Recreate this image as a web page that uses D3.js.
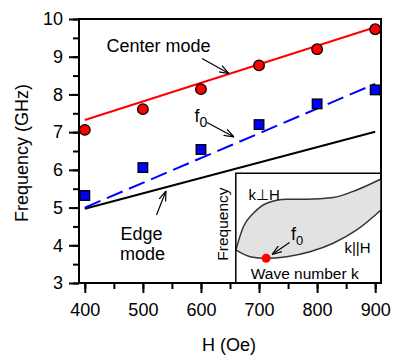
<!DOCTYPE html>
<html>
<head>
<meta charset="utf-8">
<script src="https://cdn.jsdelivr.net/npm/d3@7"></script>
<style>
  body { margin: 0; background: #fff; }
  svg text { font-family: "Liberation Sans", Arial, sans-serif; fill: #000; }
</style>
</head>
<body>
<svg id="chart" width="396" height="361"></svg>
<script>
// field values (Oe)
const fields = [400, 500, 600, 700, 800, 900];
// measured points (GHz)
const centerPts = [7.06, 7.61, 8.14, 8.77, 9.20, 9.73];
const f0Pts = [5.32, 6.06, 6.54, 7.20, 7.75, 8.12];
// calculated lines, end points only (GHz)
const lineFields = [400, 900];
const centerLine = [7.32, 9.78];
const f0Line = [5.00, 8.28];
const edgeLine = [4.97, 7.01];
const xTicks = [400, 500, 600, 700, 800, 900];
const yTicks = [3, 4, 5, 6, 7, 8, 9, 10];

// inset sketch, normalised k / frequency
const upperK = [0, 0.052, 0.121, 0.213, 0.351, 0.489, 0.671, 0.833, 1.0];
const upperF = [0.301, 0.513, 0.635, 0.727, 0.763, 0.763, 0.778, 0.848, 0.948];
const lowerK = [0, 0.098, 0.208, 0.351, 0.511, 0.671, 0.833, 1.0];
const lowerF = [0.301, 0.240, 0.225, 0.240, 0.285, 0.362, 0.483, 0.665];
const minK = 0.209, minF = 0.225;

const margin = {top: 19, right: 15, bottom: 78, left: 79};
const width = 396 - margin.left - margin.right;
const height = 361 - margin.top - margin.bottom;

const svg = d3.select("#chart");

const defs = svg.append("defs");
defs.append("marker")
  .attr("id", "arr")
  .attr("viewBox", "0 0 10 8")
  .attr("refX", 10).attr("refY", 4)
  .attr("markerWidth", 10).attr("markerHeight", 8)
  .attr("markerUnits", "userSpaceOnUse")
  .attr("orient", "auto")
  .append("path")
  .attr("d", "M0,0.5 L10,4 L0,7.5")
  .attr("fill", "none")
  .attr("stroke", "#000")
  .attr("stroke-width", 1.2);

const g = svg.append("g")
  .attr("transform", `translate(${margin.left},${margin.top})`);

const x = d3.scaleLinear().domain([390, 910]).range([0, width]);
const y = d3.scaleLinear().domain([3, 10]).range([height, 0]);

// axes with minor ticks
const minorX = d3.range(400, 901, 50);
const minorY = d3.range(3, 10.01, 0.5);

g.append("g")
  .attr("transform", `translate(0,${height})`)
  .call(d3.axisBottom(x).tickValues(minorX).tickSize(6).tickFormat(""))
  .call(a => a.select(".domain").remove())
  .selectAll("line").attr("stroke-width", 2);
g.append("g")
  .attr("transform", `translate(0,${height})`)
  .call(d3.axisBottom(x).tickValues(xTicks).tickSize(10).tickPadding(10).tickFormat(d3.format("d")))
  .call(a => a.select(".domain").remove())
  .call(a => a.selectAll("line").attr("stroke-width", 2))
  .call(a => a.selectAll("text").style("font-size", "18px").attr("font-family", null));

g.append("g")
  .call(d3.axisLeft(y).tickValues(minorY).tickSize(6).tickFormat(""))
  .call(a => a.select(".domain").remove())
  .selectAll("line").attr("stroke-width", 2);
g.append("g")
  .call(d3.axisLeft(y).tickValues(yTicks).tickSize(10).tickPadding(6).tickFormat(d3.format("d")))
  .call(a => a.select(".domain").remove())
  .call(a => a.selectAll("line").attr("stroke-width", 2))
  .call(a => a.selectAll("text").style("font-size", "18px").attr("font-family", null));

// frame
g.append("rect")
  .attr("width", width).attr("height", height)
  .attr("fill", "none").attr("stroke", "#000").attr("stroke-width", 2);

// inset
const ix0 = x(660), ix1 = width, iy0 = y(5.91), iy1 = height;
const xi = d3.scaleLinear().domain([0, 1]).range([ix0, ix1]);
const yi = d3.scaleLinear().domain([0, 1]).range([iy1, iy0]);
const inset = g.append("g");
const upper = upperK.map((k, i) => [k, upperF[i]]);
const lower = lowerK.map((k, i) => [k, lowerF[i]]);
const curve = d3.line().x(d => xi(d[0])).y(d => yi(d[1])).curve(d3.curveMonotoneX);
const shape = curve(upper) + "L" + curve(lower.slice().reverse()).slice(1) + "Z";
inset.append("path").attr("d", shape).attr("fill", "#e2e2e2").attr("stroke", "none");
inset.append("path").attr("d", curve(upper)).attr("fill", "none").attr("stroke", "#333").attr("stroke-width", 1.5);
inset.append("path").attr("d", curve(lower)).attr("fill", "none").attr("stroke", "#333").attr("stroke-width", 1.5);
inset.append("rect")
  .attr("x", ix0).attr("y", iy0).attr("width", ix1 - ix0).attr("height", iy1 - iy0)
  .attr("fill", "none").attr("stroke", "#000").attr("stroke-width", 1.5);
inset.append("circle").attr("cx", xi(minK)).attr("cy", yi(minF)).attr("r", 4.5).attr("fill", "#ff0000");
inset.append("text").attr("x", xi(0.087)).attr("y", yi(0.76)).style("font-size", "15px").text("k\u22A5H");
inset.append("text").attr("x", xi(0.748)).attr("y", yi(0.27)).style("font-size", "15px").text("k||H");
inset.append("text").attr("x", xi(0.103)).attr("y", yi(0.04)).style("font-size", "15.5px").text("Wave number k");
inset.append("text")
  .attr("transform", `translate(${ix0 - 8},${(iy0 + iy1) / 2 - 4}) rotate(-90)`)
  .attr("text-anchor", "middle").style("font-size", "15.5px").text("Frequency");
const insetF = inset.append("text").attr("x", xi(0.38)).attr("y", yi(0.39)).style("font-size", "18px");
insetF.append("tspan").text("f");
insetF.append("tspan").attr("dy", 5).style("font-size", "13px").text("0");
inset.append("line")
  .attr("x1", xi(0.37)).attr("y1", yi(0.37)).attr("x2", xi(0.25)).attr("y2", yi(0.26))
  .attr("stroke", "#000").attr("stroke-width", 1.2).attr("marker-end", "url(#arr)");

// lines
const lineOf = vals => d3.line().x((d, i) => x(lineFields[i])).y(d => y(d))(vals);
g.append("path").attr("d", lineOf(edgeLine)).attr("fill", "none").attr("stroke", "#000").attr("stroke-width", 2);
g.append("path").attr("d", lineOf(f0Line)).attr("fill", "none").attr("stroke", "#0000ff").attr("stroke-width", 2).attr("stroke-dasharray", "17,7");
g.append("path").attr("d", lineOf(centerLine)).attr("fill", "none").attr("stroke", "#ff0000").attr("stroke-width", 2);

// points
g.append("g").selectAll("circle")
  .data(fields)
  .join("circle")
  .attr("cx", d => x(d))
  .attr("cy", (d, i) => y(centerPts[i]))
  .attr("r", 5.3)
  .attr("fill", "#ff0000").attr("stroke", "#000").attr("stroke-width", 1.3);
g.append("g").selectAll("rect")
  .data(fields)
  .join("rect")
  .attr("x", d => x(d) - 4.8)
  .attr("y", (d, i) => y(f0Pts[i]) - 4.8)
  .attr("width", 9.6).attr("height", 9.6)
  .attr("fill", "#0000ff").attr("stroke", "#000").attr("stroke-width", 1.3);

// annotations (pixel layout)
const ann = svg.append("g");
ann.append("text").attr("x", 106.5).attr("y", 52).style("font-size", "18px").text("Center mode");
ann.append("line").attr("x1", 202).attr("y1", 58.5).attr("x2", 229).attr("y2", 73.5)
  .attr("stroke", "#000").attr("stroke-width", 1.2).attr("marker-end", "url(#arr)");
const f0t = ann.append("text").attr("x", 194.5).attr("y", 121.7).style("font-size", "18px");
f0t.append("tspan").text("f");
f0t.append("tspan").attr("dy", 5.5).style("font-size", "14px").text("0");
ann.append("line").attr("x1", 207).attr("y1", 122.5).attr("x2", 234).attr("y2", 137)
  .attr("stroke", "#000").attr("stroke-width", 1.2).attr("marker-end", "url(#arr)");
ann.append("text").attr("x", 120.5).attr("y", 240.3).style("font-size", "18px").text("Edge");
ann.append("text").attr("x", 120).attr("y", 260.3).style("font-size", "18px").text("mode");
ann.append("line").attr("x1", 156.5).attr("y1", 215).attr("x2", 166).attr("y2", 191)
  .attr("stroke", "#000").attr("stroke-width", 1.2).attr("marker-end", "url(#arr)");

// axis titles
svg.append("text")
  .attr("transform", "translate(28,153) rotate(-90)")
  .attr("text-anchor", "middle").style("font-size", "18px")
  .text("Frequency (GHz)");
svg.append("text")
  .attr("x", 229).attr("y", 351)
  .attr("text-anchor", "middle").style("font-size", "18px")
  .text("H (Oe)");
</script>
</body>
</html>
